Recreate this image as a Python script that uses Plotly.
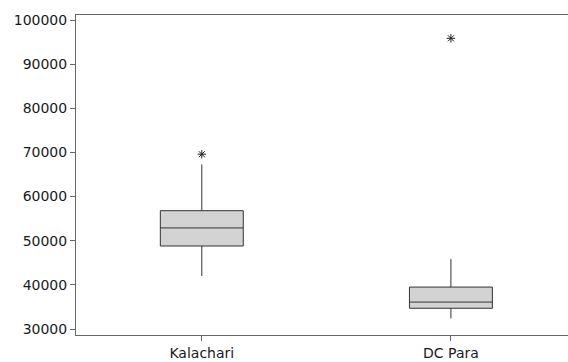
import plotly.graph_objects as go

categories = ["Kalachari", "DC Para"]
q1_vals = [48800, 34700]
median_vals = [52900, 36100]
q3_vals = [56800, 39500]
lower_whisker = [42000, 32400]
upper_whisker = [67300, 45900]
outlier_cats = ["Kalachari", "DC Para"]
outlier_vals = [69600, 95850]
y_ticks = [30000, 40000, 50000, 60000, 70000, 80000, 90000, 100000]

fig = go.Figure()
fig.add_trace(go.Box(
    x=categories,
    q1=q1_vals, median=median_vals, q3=q3_vals,
    lowerfence=lower_whisker, upperfence=upper_whisker,
    width=0.333,
    fillcolor="#d3d3d3",
    line=dict(color="#333333", width=1),
    boxpoints=False,
    whiskerwidth=0,
    showlegend=False,
))
fig.add_trace(go.Scatter(
    x=outlier_cats, y=outlier_vals, mode="markers",
    marker=dict(symbol="asterisk-open", size=7, color="#222222",
                line=dict(color="#222222", width=1)),
    showlegend=False,
))

fig.update_layout(
    width=568, height=362,
    margin=dict(l=75.5, r=0, t=15, b=27),
    paper_bgcolor="white", plot_bgcolor="white",
    font=dict(family="DejaVu Sans", size=14, color="#1a1a1a"),
)
fig.update_xaxes(
    type="category", range=[-0.505, 1.47],
    showline=True, mirror=True, linecolor="#666666", linewidth=1,
    ticks="outside", ticklen=5, tickcolor="#666666",
    showgrid=False, zeroline=False,
    tickfont=dict(size=14),
)
fig.update_yaxes(
    range=[28641, 101133],
    tickvals=y_ticks, ticktext=[str(v) for v in y_ticks],
    showline=True, linecolor="#666666", linewidth=1,
    ticks="outside", ticklen=5, tickcolor="#666666",
    showgrid=False, zeroline=False,
    tickfont=dict(size=14),
)

fig.write_html("out.html", config={"displayModeBar": False},
               post_script="document.body.style.margin='0';document.body.style.overflow='hidden';")
